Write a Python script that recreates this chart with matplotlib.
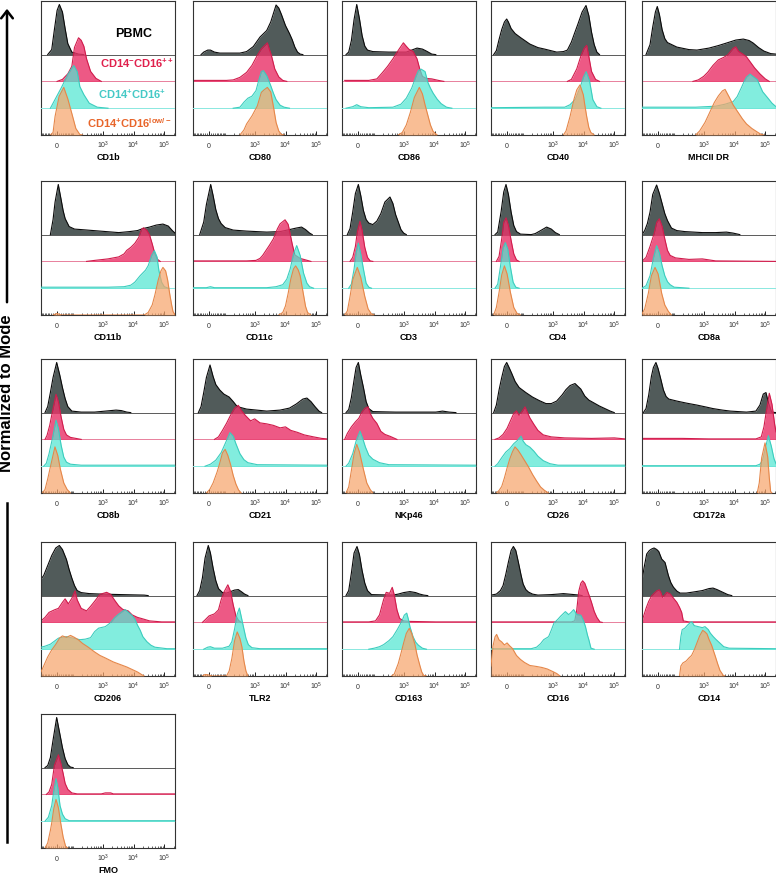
import numpy as np
import matplotlib
matplotlib.use("Agg")
import matplotlib.pyplot as plt
from matplotlib.lines import Line2D
from matplotlib.patches import FancyArrowPatch

plt.rcParams['font.family'] = ['Liberation Sans', 'DejaVu Sans']
plt.rcParams['mathtext.fontset'] = 'custom'
plt.rcParams['mathtext.rm'] = 'Liberation Sans'
plt.rcParams['mathtext.it'] = 'Liberation Sans:italic'
plt.rcParams['mathtext.bf'] = 'Liberation Sans:bold'

# ---------------- data ----------------
# Each histogram: list of (channel position 0-100 on the logicle axis, height in % of mode)
# order inside each marker: PBMC, CD14-CD16++, CD14+CD16+, CD14+CD16low/-
POPULATIONS = ["PBMC", r"CD14$^{\mathbf{-}}$CD16$^{\mathbf{++}}$", r"CD14$^{\mathbf{+}}$CD16$^{\mathbf{+}}$",
               r"CD14$^{\mathbf{+}}$CD16$^{\mathbf{low/-}}$"]
MARKERS = ["CD1b", "CD80", "CD86", "CD40", "MHCII DR",
           "CD11b", "CD11c", "CD3", "CD4", "CD8a",
           "CD8b", "CD21", "NKp46", "CD26", "CD172a",
           "CD206", "TLR2", "CD163", "CD16", "CD14",
           "FMO"]
TICK_VALUES = [0, 1e3, 1e4, 1e5]
TICK_LABELS = ["0", r"$10^3$", r"$10^4$", r"$10^5$"]

CD1b = [
    [(5,0),(8,10),(10,50),(12,88),(13.7,100),(16,85),(18,52),(20,22),(23,5),(28,1),(32,0)],
    [(12,0),(16,4),(20,15),(23,30),(25,68),(28,87),(30,82),(32,70),(34,45),(37,20),(41,6),(45,0)],
    [(7,0),(10,15),(15,40),(20,67),(23,80),(24.5,85),(27,73),(29,43),(32,27),(36,10),(42,2),(50,0)],
    [(7,0),(9,5),(10.5,37),(13.5,77),(17,95),(20,72),(23,43),(26,13),(29,1),(31,0)],
]
CD80 = [
    [(6,0),(8,5),(11,9),(13,9),(16,5),(20,3),(35,3),(40,6),(45,16),(50,35),(55,48),(58,65),(60,82),(62,99),(64,93),(66,80),(69,58),(72,42),(74,30),(76,15),(78,5),(80,1),(82,0)],
    [(0,2),(25,2),(30,3),(35,8),(40,18),(44,32),(48,52),(51,65),(54,73),(55.5,77),(57,64),(58.5,52),(61,25),(64,9),(67,2),(70,0)],
    [(30,0),(35,2),(38,12),(41,20),(44,24),(47,35),(49,55),(51,73),(52.5,75),(55,65),(58,45),(60,30),(62,17),(65,6),(68,2),(72,0)],
    [(35,0),(38,10),(40,22),(44,38),(48,58),(51,85),(53,90),(55.5,95),(58,86),(60,57),(62,25),(64,8),(66,1),(68,0)],
]
CD86 = [
    [(3,0),(5,5),(7,28),(9,70),(11,100),(13,72),(15,38),(17,17),(19,9),(23,6),(35,5),(48,5),(52,9),(56,13),(60,11),(63,7),(67,1),(70,0)],
    [(2,2),(20,2),(26,5),(30,17),(34,30),(38,45),(42,62),(45.8,77),(48,70),(50,64),(53,60),(56,45),(58,25),(60,10),(63,6),(67,5),(72,2),(76,0)],
    [(3,0),(8,3),(11,7),(14,3),(20,1),(38,2),(44,8),(48,20),(52,40),(55,62),(57,75),(59,78),(62,73),(64,52),(66,40),(68,30),(71,18),(74,9),(78,2),(82,0)],
    [(42,0),(45,5),(48,20),(51,45),(54,75),(57.7,95),(60,82),(62,60),(64,40),(66,20),(68,7),(71,0)],
]
CD40 = [
    [(2,0),(4,8),(6,30),(8,50),(10,65),(11.7,71),(13,65),(15,52),(18,42),(22,34),(29,21),(35,14),(40,11),(49,5),(54,6),(57,9),(60,25),(62,40),(65,62),(68,85),(70.9,98),(73,78),(75,45),(77,20),(79,5),(81,0)],
    [(57,0),(60,4),(64,25),(67,50),(69.5,66),(71.4,72),(73,50),(75,20),(78,4),(81,0)],
    [(0,1),(40,2),(55,2),(59,7),(63,18),(66.7,43),(69,62),(71,73),(73.5,55),(76,17),(79,3),(82,0)],
    [(54,0),(56,8),(59,37),(62,72),(64,90),(66.4,100),(68.9,80),(70,60),(71.4,37),(73,15),(74.5,5),(77,0)],
]
MHCII_DR = [
    [(3,0),(6,20),(8,55),(10,85),(11.4,96),(13,80),(15,50),(17,32),(19,24),(26,15),(35,10),(41,9),(50,13),(57,18),(63,23),(70,29),(75.6,31),(80,28),(83,23),(87,14),(91,7),(96,2),(100,1)],
    [(38,0),(42,3),(46,10),(49,18),(53,32),(57,43),(61,48),(64,53),(68,66),(70,69),(72,60),(75,55),(78,49),(81,38),(84,27),(88,15),(92,5),(95,0)],
    [(0,2),(40,2),(55,4),(62,8),(68,13),(71,23),(74,40),(76,52),(78,62),(80.6,68),(83,63),(86,57),(88,45),(90,33),(94,20),(97,10),(100,3)],
    [(40,0),(43,8),(47,25),(50,42),(54,65),(57,78),(60,88),(62,91),(65,76),(68,60),(71,48),(75,32),(78,22),(82,13),(86,6),(89,1),(91,0)],
]
CD11b = [
    [(7,0),(9,30),(10.5,65),(12.9,100),(15,70),(16.5,48),(18,32),(21,16),(25,11),(30,10),(44,7),(58,4),(66,6),(72,8),(76,12),(81,15),(86,19),(91,21),(95,17),(98,8),(100,3)],
    [(34,0),(40,2),(50,5),(58,9),(62,15),(64,22),(67,28),(70,36),(73,48),(75,64),(76.5,67),(79,62),(81,53),(83,35),(85,15),(87,4),(89,0)],
    [(0,2),(50,2),(62,3),(67,6),(70,12),(74,25),(78,36),(80,45),(82.5,65),(84.6,75),(86.5,63),(88,35),(90,12),(92,3),(95,0)],
    [(9,0),(12,3),(15,0),(77,0),(80,5),(83,20),(85,40),(87.5,70),(89.5,88),(91,95),(93,88),(94.5,70),(96,43),(97.5,20),(98.5,7),(100,0)],
]
CD11c = [
    [(5,0),(8,25),(10,60),(13.2,100),(15,78),(17,50),(19,32),(21,22),(24,14),(30,9),(40,7),(55,5),(65,6),(72,10),(77,13),(81,15),(84,10),(87,3),(89,0)],
    [(0,1),(40,1),(47,2),(50,6),(52,12),(54,20),(57,32),(60,45),(63,65),(65,75),(68.7,83),(71,74),(72.5,55),(74,35),(76,13),(80,6),(84,3),(88,0)],
    [(0,1),(10,1),(13,3),(16,1),(55,1),(62,3),(67,7),(70,18),(72.5,38),(75,68),(77.4,85),(80,65),(82.5,30),(85,10),(87,3),(90,0)],
    [(64,0),(67,5),(69,18),(71,43),(73,72),(75,92),(76.6,98),(78.5,90),(80,78),(82.3,43),(84,17),(85.5,5),(88,0)],
]
CD3 = [
    [(4,0),(6,12),(8,45),(10,82),(12.2,100),(14,78),(16,48),(18,30),(20,23),(23,20),(26,27),(29,42),(32,65),(35.8,75),(38,62),(40,40),(42,25),(44,10),(46,3),(48,0)],
    [(6,0),(8,8),(10,30),(11.5,60),(13.4,80),(15,62),(17,28),(19,8),(21,1),(23,0)],
    [(5,0),(7,8),(9,38),(10.5,70),(12.2,90),(14,68),(16,38),(18,10),(20,2),(22,0)],
    [(2,0),(4,8),(6,37),(8,70),(11.4,95),(14,75),(17,37),(19.5,12),(22,2),(24,0)],
]
CD4 = [
    [(3,0),(5,5),(7.5,45),(9.5,85),(11.2,100),(13,80),(15,45),(17,18),(19,6),(22,1),(30,0),(33,2),(37,8),(41.5,15),(45,11),(48,4),(51,0)],
    [(4,0),(6,10),(8,45),(9.5,78),(11.2,87),(13,72),(15,42),(17,15),(19,3),(21,0)],
    [(3,0),(5,8),(7,42),(9,80),(10.7,91),(12.5,78),(14.5,42),(16.5,12),(18.5,2),(21,0)],
    [(2,0),(4,15),(6,45),(8,80),(10,98),(12,82),(14.5,45),(17,15),(19.5,3),(22,0)],
]
CD8a = [
    [(0,0),(2,8),(4,22),(6,45),(8,80),(10.9,99),(13,82),(15,62),(17,42),(19,28),(22,13),(26,8),(32,6),(45,4),(55,4),(63,5),(68,3),(73,0)],
    [(0,0),(3,8),(6,30),(9,55),(11,78),(12.9,85),(15,70),(17,45),(19,22),(21,12),(25,7),(35,4),(45,5),(50,3),(55,1),(100,0)],
    [(0,0),(3,5),(6,25),(8.5,60),(10.9,85),(13,70),(15,45),(17,25),(19,13),(21,7),(24,2),(30,1),(35,0)],
    [(0,2),(2,12),(4.7,43),(7,78),(9.7,95),(12,82),(14.7,43),(17,20),(19.7,7),(22,0)],
]
CD8b = [
    [(3,0),(5,12),(7,40),(9,70),(11.7,100),(14,75),(16,50),(18,28),(20,12),(23,3),(30,1),(40,1),(48,3),(56,5),(60,4),(64,1),(67,0)],
    [(3,0),(4.5,8),(6.5,28),(8.5,55),(11.2,90),(13,75),(15,45),(17,20),(19,9),(22,4),(26,2),(30,0)],
    [(2,0),(4,6),(6,25),(8.5,55),(11.2,92),(13,75),(15,42),(17,18),(19,8),(22,4),(30,2),(100,2)],
    [(1,0),(3,7),(5,28),(7,52),(10.4,92),(12.5,75),(14.5,47),(17,20),(19.5,7),(22,0)],
]
CD21 = [
    [(4,0),(6,12),(8,40),(10,70),(12.7,95),(15,72),(17,56),(20,45),(23,37),(27,31),(30,22),(33,12),(40,7),(55,3),(65,5),(72,9),(77,17),(82,27),(85,29),(88,22),(91,12),(94,3),(96,0)],
    [(16,0),(19,5),(22,18),(25,32),(28,48),(31,62),(33.8,68),(36,58),(39,48),(43,37),(46,41),(50,33),(55,31),(60,28),(65,23),(69,25),(73,18),(78,14),(83,9),(90,5),(96,2),(100,1)],
    [(9,0),(13,4),(17,12),(21,27),(24,45),(27.6,67),(30,60),(32,45),(35,25),(38,13),(41,7),(48,3),(100,2)],
    [(10,0),(12.5,7),(15,20),(18,42),(20,60),(22,80),(24,87),(26,75),(28,57),(30,35),(32,18),(34,6),(36,0)],
]
NKp46 = [
    [(3,0),(5,6),(7,30),(9,65),(10.5,90),(12.2,100),(14,75),(16,50),(18,22),(20,8),(23,2),(40,1),(70,1),(75,3),(80,1),(85,0)],
    [(2,0),(4,12),(7,25),(10,35),(12.5,42),(15,55),(17,62),(19.4,65),(21,52),(23,42),(26,32),(29,16),(32,10),(36,6),(41,0)],
    [(3,0),(5,6),(8,25),(10.5,50),(13.4,70),(15.5,55),(17.5,38),(20,22),(23,14),(28,7),(35,3),(100,2)],
    [(3,0),(5,12),(7,45),(9,78),(11,97),(13,82),(16,47),(18.5,20),(21,7),(23,0)],
]
CD26 = [
    [(2,0),(4,15),(6,45),(8,70),(10,92),(11.7,100),(13.5,90),(15.5,78),(18,62),(21,50),(26,40),(31,31),(36,24),(41,18),(45,18),(49,23),(53,35),(56,46),(59,54),(62.7,58),(65,52),(67,47),(70,33),(73,25),(77,19),(81,13),(85,8),(89,3),(92,0)],
    [(3,0),(6,3),(9,10),(12,22),(15,40),(17,52),(19,57),(21,48),(23,55),(25.4,65),(27,55),(29,43),(32,30),(35,18),(39,9),(45,5),(55,3),(75,2),(92,3),(100,1)],
    [(3,0),(5,5),(8,17),(11,28),(14,35),(17,45),(20,52),(22.4,60),(24,50),(26,43),(29,38),(32,30),(35,20),(39,11),(44,5),(50,2),(100,2)],
    [(4,0),(6,5),(8,13),(10,30),(12,50),(14,68),(16,82),(17.9,92),(20,86),(22,78),(25,65),(28,52),(31,37),(34,24),(37,12),(40,5),(43,0)],
]
CD172a = [
    [(1,0),(3,8),(5,35),(7,72),(8.5,90),(10.4,100),(12,88),(14,67),(16,45),(18,32),(20,27),(26,23),(33,19),(41,15),(48,11),(53,8),(60,5),(66,3),(78,1),(85,3),(88,15),(90.5,37),(92.5,40),(94.3,20),(96.8,1),(100,0)],
    [(0,2),(30,2),(50,1),(85,1),(89,5),(91,25),(93,60),(95,92),(97,70),(99,30),(100,15)],
    [(0,1),(85,1),(88,4),(90,12),(92,35),(94.3,61),(96.5,40),(98.5,15),(100,5)],
    [(86,0),(87.5,20),(89.3,70),(91.8,100),(93.8,72),(95,30),(96,3),(97,0)],
]
CD206 = [
    [(0,33),(2,40),(5,60),(8,80),(11,95),(13.7,100),(16,92),(19,72),(21,52),(23,35),(25,20),(27,10),(30,6),(36,4),(45,3),(60,2),(77,1),(80,0)],
    [(0,3),(3,10),(6,20),(10,25),(13,28),(16,40),(18,47),(20.4,37),(23,48),(25.4,63),(27,45),(30,28),(34,23),(37,32),(40,42),(44,56),(49,60),(52,56),(55,44),(58,33),(61,26),(65,23),(68,15),(72,10),(76,7),(81,3),(90,1),(100,1)],
    [(0,4),(3,6),(7,10),(10,16),(13,22),(19,25),(24,22),(29,19),(33,20),(37,23),(40,35),(43,42),(48,45),(52,53),(55,63),(58,70),(62.7,79),(65,74),(68,67),(70,60),(72,48),(74,38),(76,25),(79,15),(82,8),(85,4),(94,1),(100,1)],
    [(0,8),(2,20),(5,38),(8,52),(11,63),(14,76),(16,80),(19,77),(22,81),(25,77),(28,72),(31,65),(35,58),(40,48),(44,41),(48,36),(54,28),(59,23),(64,18),(68,13),(72,8),(75,3),(77,0)],
]
TLR2 = [
    [(3,0),(5,10),(7,35),(9,75),(11.4,100),(13,85),(15,55),(17,30),(19,14),(22,6),(25,5),(28,8),(31,11),(33.8,12),(36,8),(38.5,3),(41,0)],
    [(7,0),(9,5),(12,13),(16,17),(19,25),(21,45),(23,60),(26,75),(28,62),(30,35),(32,13),(34,4),(36,0)],
    [(8,0),(11,4),(13,5),(16,2),(22,2),(27,6),(29,15),(31,40),(33,70),(34.6,82),(36,65),(37.6,45),(39.5,22),(41.3,9),(44,3),(50,1),(100,1)],
    [(7,0),(9,3),(12,2),(14,0),(25,0),(27,10),(29,35),(31,70),(33,88),(35,75),(36.5,58),(38,30),(39.5,10),(41,0)],
]
CD163 = [
    [(3,0),(5,10),(7,45),(9,85),(11.2,98),(13,82),(15,50),(17,25),(19,10),(22,2),(38,1),(42,3),(46,6),(50.7,8),(55,6),(58,3),(61,1),(64,0)],
    [(0,1),(20,1),(25,3),(28,15),(31,45),(33,60),(35.5,58),(37.5,70),(39,55),(41,25),(43,8),(46,3),(50,2),(70,1),(100,1)],
    [(20,0),(24,2),(28,5),(31,9),(35,17),(38,25),(41,38),(43.3,49),(45,58),(46.5,68),(48.3,72),(49.5,60),(50.7,45),(53,25),(55,14),(57,8),(60,2),(63,0)],
    [(37,0),(39,4),(42,25),(44,45),(46,66),(48,85),(50.2,95),(52,85),(54.5,62),(56,42),(58,22),(59.5,8),(61,1),(63,0)],
]
CD16 = [
    [(0,1),(4,3),(7,10),(9,20),(11,42),(13,67),(15,90),(16.7,98),(18.5,90),(20.4,67),(22.5,40),(24,23),(26,12),(28,7),(31,3),(35,1),(45,2),(50,3),(54,4),(58,3),(62,2),(66,1),(68,0)],
    [(0,1),(60,1),(62.5,3),(64,25),(65.5,62),(67,78),(68.4,83),(70,78),(71.5,67),(73.5,52),(75,40),(77,22),(79,10),(81.3,1),(83,0)],
    [(0,1),(30,1),(34,4),(37,11),(39.3,19),(43,25),(45,38),(47,52),(50,60),(52,66),(55.5,75),(58,69),(60,74),(61.7,79),(64,69),(67,68),(69,57),(70.5,45),(72,28),(73,19),(74.6,2),(77,0)],
    [(0,20),(1.5,60),(3,78),(4.2,83),(6,72),(8,68),(10,62),(12,66),(14,60),(16,55),(19,41),(22,33),(25,27),(29,21),(34,19),(38,17),(42,14),(46,9),(49,5),(51.5,0)],
]
CD14 = [
    [(0,30),(1.5,55),(3.5,83),(5.5,90),(7.2,93),(9,95),(11,92),(12.5,88),(14.7,73),(17.2,66),(19.7,40),(21.5,26),(23.4,17),(26,9),(28.4,5),(33,5),(38,7),(45,10),(50,14),(53,15),(56,12),(60,7),(64,2),(67,0)],
    [(0,3),(1.5,15),(3,28),(5,42),(7.2,53),(9,58),(11,63),(12.9,65),(14,60),(15.4,50),(17,55),(18.5,60),(21,57),(23,50),(26,40),(28,30),(29.6,20),(30.8,3),(35,1),(100,1)],
    [(28,0),(29,25),(30,39),(32,42),(34,48),(36,53),(37.1,55),(39,47),(42,45),(45,43),(47,45),(49.5,39),(51,32),(53.2,25),(55,20),(57,15),(59,10),(61,5),(65,2),(100,1)],
    [(28,0),(29,20),(30.5,26),(33,30),(35,36),(37,41),(39,52),(41,66),(43,80),(45.3,91),(47,88),(48.5,84),(50,73),(52,61),(54.5,41),(56.5,24),(58.2,11),(60.7,1),(62,0)],
]
FMO = [
    [(3,0),(5,4),(7,20),(9,55),(11.7,100),(14,68),(16,40),(18,18),(20,6),(22,1),(24,0)],
    [(4,0),(6,5),(8,20),(10,58),(13,79),(15,60),(16.5,42),(18,22),(20,10),(23,3),(27,1),(45,1),(48,3),(52,3),(54,1),(100,1)],
    [(3,0),(5.5,8),(8,31),(9.5,60),(11.2,85),(12.5,68),(14.2,31),(16,14),(18,5),(21,1),(100,1)],
    [(3,0),(5,10),(7,35),(8,50),(9.5,78),(11.2,97),(13,80),(14.7,50),(16.5,22),(18.4,3),(20,0)],
]

HISTOGRAMS = {
    "CD1b": CD1b, "CD80": CD80, "CD86": CD86, "CD40": CD40, "MHCII DR": MHCII_DR,
    "CD11b": CD11b, "CD11c": CD11c, "CD3": CD3, "CD4": CD4, "CD8a": CD8a,
    "CD8b": CD8b, "CD21": CD21, "NKp46": NKp46, "CD26": CD26, "CD172a": CD172a,
    "CD206": CD206, "TLR2": TLR2, "CD163": CD163, "CD16": CD16, "CD14": CD14,
    "FMO": FMO,
}

# ---------------- style ----------------
FILLS = ['#515b5a', '#ea356a', '#52e6d2', '#f7a56c']
EDGES = ['#0a0a0a', '#d01c4c', '#3ccdbe', '#e5874a']
ALPHAS = [1.0, 0.82, 0.72, 0.72]
BASELINES = ['#5a5a5a', '#e8809c', '#8ae8e0', '#000000']
TEXT_COLORS = ['#000000', '#e0204c', '#45c9c6', '#e8652a']

W, H = 776, 875
PANEL = 134
LEFTS = [41, 193, 342, 491, 642]
TOPS = [1, 181, 359, 542, 714]
YMAX = 5.0
HSCALE = 1.87 / 100.0


def logicle_channel(v):
    return 12.0 + 23.0 * np.arcsinh(np.asarray(v, dtype=float) / 66.0) / np.log(10.0)


minor_vals = ([-s for s in range(10, 100, 10)] + list(range(10, 100, 10)) +
              list(range(100, 1000, 100)) + list(range(2000, 10000, 1000)) +
              list(range(20000, 100000, 10000)) + [200000])

fig = plt.figure(figsize=(W / 100, H / 100), dpi=100)

for idx, name in enumerate(MARKERS):
    r, c = divmod(idx, 5)
    L, T = LEFTS[c], TOPS[r]
    ax = fig.add_axes([L / W, 1 - (T + PANEL) / H, PANEL / W, PANEL / H])
    ax.set_xlim(0, 100)
    ax.set_ylim(0, YMAX)
    curves = HISTOGRAMS[name]
    for k, knots in enumerate(curves):
        base = 3 - k
        xs = np.array([p[0] for p in knots], dtype=float)
        ys = base + np.array([p[1] for p in knots], dtype=float) * HSCALE
        if k < 3:
            ax.axhline(base, color=BASELINES[k], lw=0.7, zorder=1 + k)
        ax.fill_between(xs, base, ys, color=FILLS[k], alpha=ALPHAS[k], lw=0, zorder=1 + k)
        ax.plot(xs, ys, color=EDGES[k], lw=0.8, zorder=1 + k, solid_joinstyle='round')

    ax.set_xticks(logicle_channel(TICK_VALUES))
    ax.set_xticklabels(TICK_LABELS)
    ax.set_xticks(logicle_channel(minor_vals), minor=True)
    ax.set_yticks([])
    ax.tick_params(axis='x', which='major', direction='in', length=3.2, width=0.7,
                   labelsize=5, pad=9.5, labelcolor='#333333', color='#222222')
    ax.tick_params(axis='x', which='minor', direction='in', length=1.7, width=0.5, color='#222222')
    for lab in ax.get_xticklabels():
        lab.set_verticalalignment('baseline')
    for sp in ax.spines.values():
        sp.set_linewidth(0.8)
        sp.set_color('#333333')
    ax.set_xlabel(name, fontsize=6.5, fontweight='bold', va='top')
    ax.xaxis.set_label_coords(0.5, -0.135)

    if idx == 0:
        pos = [(69, 3.77), (72, 2.69), (68, 1.53), (66, 0.45)]
        for k, lab in enumerate(POPULATIONS):
            ax.text(pos[k][0], pos[k][1], lab, color=TEXT_COLORS[k], ha='center', va='center',
                    fontsize=9 if k == 0 else 8, fontweight='bold', zorder=10)

# y-axis title with arrow
xa = 7 / W
fig.text(xa, 1 - 393 / H, "Normalized to Mode", rotation=90, fontsize=12,
         fontweight='bold', ha='center', va='center')
fig.add_artist(Line2D([xa, xa], [1 - 842 / H, 1 - 503 / H], transform=fig.transFigure,
                      color='black', lw=1.8))
fig.add_artist(FancyArrowPatch((xa, 1 - 305 / H), (xa, 1 - 6 / H), transform=fig.transFigure,
                               arrowstyle='->,head_length=0.45,head_width=0.35',
                               mutation_scale=12, color='black', lw=1.8))

fig.savefig("out.png", dpi=100)
